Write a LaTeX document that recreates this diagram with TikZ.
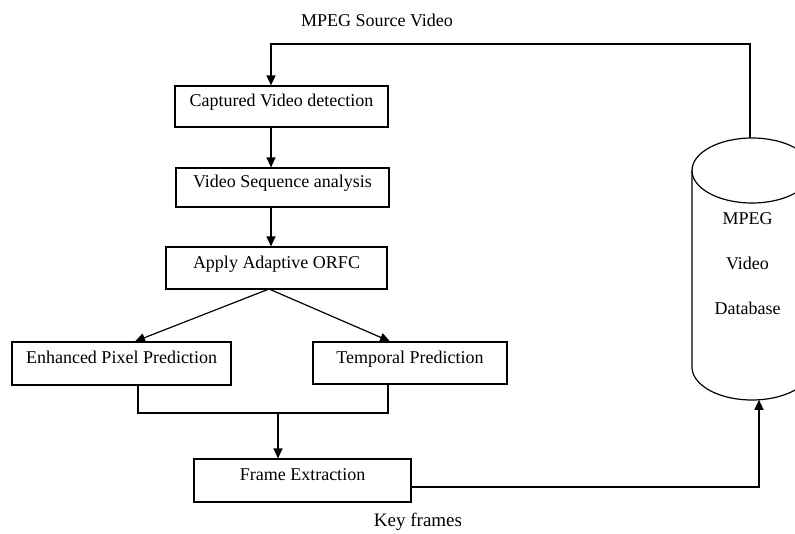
\documentclass[tikz,border=0pt]{standalone}
\usepackage{fontspec}
\setmainfont{Liberation Serif}
\usetikzlibrary{arrows.meta}
\begin{document}
\begin{tikzpicture}[x=1pt,y=-1pt,
  every node/.style={font=\fontsize{18}{21}\selectfont},
  stepbox/.style={draw, line width=1.2pt, rectangle, inner sep=0pt,
                  text height=0pt, text depth=0pt},
  link/.style={line width=1.2pt},
  flow/.style={link, -{Triangle[length=10pt,width=9pt]}}]
\useasboundingbox (0,0) rectangle (795,533);

% process boxes
\node[stepbox, minimum width=213pt, minimum height=41pt] (cap)   at (281.5,106.5) {Captured Video detection};
\node[stepbox, minimum width=213pt, minimum height=39pt] (seq)   at (282.5,187.5) {Video Sequence analysis};
\node[stepbox, minimum width=221pt, minimum height=42pt] (orfc)  at (276.5,268)   {Apply Adaptive ORFC};
\node[stepbox, minimum width=219pt, minimum height=43pt] (pix)   at (121.5,363.5) {Enhanced Pixel Prediction};
\node[stepbox, minimum width=194pt, minimum height=42pt] (temp)  at (410,363)     {Temporal Prediction};
\node[stepbox, minimum width=217pt, minimum height=43pt] (frame) at (302.5,480.5) {Frame Extraction};

% database cylinder (runs past the right edge)
\draw[link] (752,170.5) ellipse[x radius=60, y radius=32.5];
\draw[link] (692,170.5) -- (692,367)
  plot[domain=180:360, samples=72, smooth] ({752+60*cos(\x)},{367-33*sin(\x)})
  -- (812,170.5);
\node[align=center, font=\fontsize{18}{45}\selectfont] (db) at (747.5,264) {MPEG\\Video\\Database};
\coordinate (dbtop)  at (750,138);
\coordinate (dbfoot) at (759,399.8);

% free labels
\node (src)  at (377,20)  {MPEG Source Video};
\node[font=\fontsize{19}{23}\selectfont] (keys) at (418,522) {Key frames};

% connectors
\coordinate (spine) at (271,44);
\draw[flow] (dbtop) |- (spine) -- (spine |- cap.north);
\draw[flow] (spine |- cap.south) -- (spine |- seq.north);
\draw[flow] (spine |- seq.south) -- (spine |- orfc.north);
\coordinate (fork) at (269,289);
\draw[flow] (fork) -- ([xshift=13.5pt]pix.north);
\draw[flow] (fork) -- ([xshift=-20pt]temp.north);
\coordinate (join) at (278,413);
\draw[link] ([xshift=16.5pt]pix.south) |- ([xshift=-22pt]temp.south |- join) -- ([xshift=-22pt]temp.south);
\draw[flow] (join) -- (join |- frame.north);
\draw[flow] ([yshift=-6.5pt]frame.east) -| (dbfoot);
\end{tikzpicture}
\end{document}
